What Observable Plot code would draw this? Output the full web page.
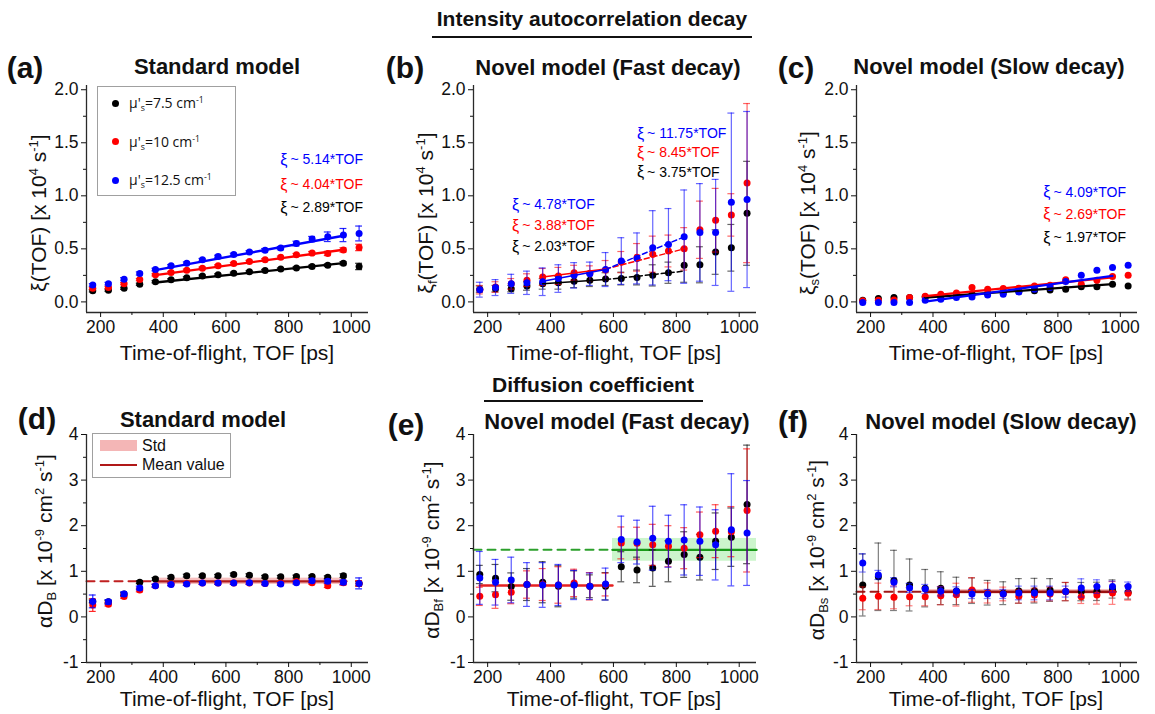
<!DOCTYPE html>
<html>
<head>
<meta charset="utf-8">
<script src="https://cdn.jsdelivr.net/npm/d3@7"></script>
<script src="https://cdn.jsdelivr.net/npm/@observablehq/plot@0.6"></script>
<style>
  body { margin: 0; background: #fff; }
  #root { position: relative; width: 1155px; height: 714px; overflow: hidden; background: #fff;
          font-family: "Liberation Sans", Arial, sans-serif; color: #111; }
  .t { position: absolute; transform: translate(-50%, -50%); white-space: nowrap; line-height: 1; }
  .b { font-weight: bold; }
  .rot { transform: translate(-50%, -50%) rotate(-90deg); }
  sup { font-size: 0.62em; vertical-align: 0.6em; line-height: 0; }
  sub { font-size: 0.62em; vertical-align: -0.35em; line-height: 0; }
  .box { position: absolute; border: 1px solid #a0a0a0; background: #fff; }
</style>
</head>
<body>
<div id="root"></div>
<script>
// ---------------- data ----------------
const tof = [175,225,275,325,375,425,475,525,575,625,675,725,775,825,875,925,975,1025];
const xTicks = [200,400,600,800,1000];
const xMinor = [300,500,700,900];
const topTicks = [0,0.5,1,1.5,2];
const topMinor = [0.25,0.75,1.25,1.75];
const botTicks = [-1,0,1,2,3,4];
const botMinor = [-0.5,0.5,1.5,2.5,3.5];
const legendLabels = ["7.5","10","12.5"];

// (a) standard model, xi(TOF)
const aBlack = [0.104,0.11,0.128,0.166,0.19,0.208,0.227,0.243,0.255,0.27,0.283,0.296,0.309,0.32,0.334,0.346,0.365,0.334];
const aRed   = [0.128,0.135,0.172,0.21,0.255,0.277,0.299,0.318,0.34,0.362,0.381,0.397,0.42,0.444,0.46,0.457,0.49,0.513];
const aBlue  = [0.16,0.172,0.214,0.268,0.305,0.34,0.365,0.397,0.428,0.447,0.47,0.488,0.507,0.55,0.592,0.614,0.63,0.645];
const aBlackErr = [0.01,0.01,0.01,0.01,0.01,0.01,0.01,0.01,0.01,0.01,0.01,0.01,0.01,0.01,0.012,0.012,0.015,0.03];
const aRedErr   = [0.01,0.01,0.01,0.01,0.01,0.01,0.01,0.01,0.01,0.01,0.01,0.01,0.012,0.012,0.015,0.02,0.02,0.03];
const aBlueErr  = [0.012,0.012,0.015,0.015,0.012,0.012,0.012,0.012,0.012,0.012,0.012,0.015,0.015,0.022,0.025,0.045,0.062,0.07];
const aFitX = [375, 975];
const aFitBlack = [0.183, 0.365];
const aFitRed = [0.252, 0.491];
const aFitBlue = [0.30, 0.624];
const aNotes = ["~ 5.14*TOF","~ 4.04*TOF","~ 2.89*TOF"];

// (b) novel model fast decay, xi_f(TOF)
const bBlack = [0.12,0.125,0.125,0.15,0.17,0.18,0.195,0.205,0.215,0.22,0.23,0.25,0.275,0.345,0.35,0.47,0.51,0.835];
const bRed   = [0.115,0.14,0.17,0.205,0.235,0.245,0.275,0.27,0.30,0.375,0.42,0.45,0.48,0.50,0.68,0.77,0.82,1.12];
const bBlue  = [0.115,0.135,0.17,0.18,0.19,0.22,0.25,0.265,0.305,0.385,0.41,0.51,0.54,0.615,0.655,0.655,0.94,0.965];
const bBlackErr = [0.03,0.03,0.03,0.04,0.05,0.06,0.06,0.06,0.06,0.06,0.07,0.1,0.1,0.16,0.17,0.21,0.22,0.49];
const bRedErr   = [0.04,0.05,0.05,0.06,0.08,0.08,0.07,0.07,0.09,0.1,0.13,0.17,0.15,0.2,0.27,0.3,0.2,0.75];
const bBlueErr  = [0.07,0.075,0.09,0.11,0.13,0.13,0.12,0.11,0.16,0.22,0.24,0.35,0.34,0.44,0.46,0.5,0.84,0.83];
const bSolidX = [375, 575];
const bDashX = [575, 825];
const bSolidBlack = [0.17, 0.21],  bDashBlack = [0.21, 0.29];
const bSolidRed   = [0.235, 0.31], bDashRed   = [0.31, 0.50];
const bSolidBlue  = [0.195, 0.305], bDashBlue = [0.305, 0.613];
const bNotesLow  = ["~ 4.78*TOF","~ 3.88*TOF","~ 2.03*TOF"];
const bNotesHigh = ["~ 11.75*TOF","~ 8.45*TOF","~ 3.75*TOF"];

// (c) novel model slow decay, xi_s(TOF)
const cBlack = [0.016,0.031,0.041,0.041,0.047,0.05,0.063,0.072,0.079,0.088,0.098,0.104,0.113,0.12,0.142,0.142,0.167,0.151];
const cRed   = [0.01,0.016,0.019,0.041,0.054,0.072,0.085,0.135,0.12,0.126,0.129,0.151,0.157,0.208,0.167,0.205,0.24,0.252];
const cBlue  = [-0.006,-0.006,-0.006,-0.006,0.016,0.025,0.041,0.047,0.066,0.072,0.094,0.12,0.135,0.192,0.252,0.299,0.324,0.346];
const cFitX = [375, 975];
const cFitBlack = [0.041, 0.167];
const cFitRed = [0.054, 0.23];
const cFitBlue = [0.003, 0.246];
const cNotes = ["~ 4.09*TOF","~ 2.69*TOF","~ 1.97*TOF"];

// (d) standard model, alpha D_B
const dBlack = [0.34,0.33,0.50,0.76,0.83,0.87,0.905,0.9,0.9,0.93,0.915,0.88,0.88,0.885,0.885,0.87,0.905,0.73];
const dRed   = [0.26,0.28,0.45,0.59,0.685,0.72,0.73,0.745,0.745,0.745,0.745,0.735,0.745,0.775,0.75,0.685,0.75,0.735];
const dBlue  = [0.34,0.33,0.50,0.635,0.685,0.71,0.72,0.745,0.745,0.745,0.75,0.735,0.72,0.75,0.795,0.78,0.76,0.735];
const dBlackErr = [0.03,0.03,0.03,0.03,0.03,0.03,0.03,0.03,0.03,0.03,0.03,0.03,0.03,0.03,0.03,0.03,0.04,0.05];
const dRedErr   = [0.14,0.04,0.04,0.04,0.03,0.03,0.03,0.03,0.03,0.03,0.03,0.03,0.03,0.03,0.03,0.04,0.05,0.06];
const dBlueErr  = [0.14,0.05,0.05,0.04,0.03,0.03,0.03,0.03,0.03,0.03,0.03,0.03,0.03,0.03,0.04,0.04,0.05,0.12];
const dMean = 0.78, dStd = 0.07;
const dMeanX = [375, 985];

// (e) novel model fast decay, alpha D_Bf
const eBlack = [0.93,0.85,0.665,0.71,0.76,0.672,0.71,0.672,0.672,1.1,1.03,1.07,1.22,1.367,1.31,1.66,1.749,2.467];
const eRed   = [0.451,0.488,0.539,0.71,0.71,0.70,0.745,0.672,0.71,1.623,1.616,1.58,1.55,1.507,1.8,1.88,1.87,2.335];
const eBlue  = [0.855,0.76,0.81,0.71,0.70,0.70,0.70,0.672,0.72,1.70,1.64,1.726,1.66,1.689,1.66,1.58,1.91,1.84];
const eBlackErr = [0.2,0.3,0.3,0.35,0.45,0.45,0.3,0.25,0.3,0.33,0.28,0.4,0.45,0.5,0.5,0.62,0.64,1.3];
const eRedErr   = [0.2,0.3,0.25,0.3,0.35,0.4,0.3,0.3,0.25,0.35,0.35,0.45,0.45,0.45,0.5,0.58,0.55,1.35];
const eBlueErr  = [0.58,0.5,0.5,0.48,0.49,0.45,0.32,0.29,0.35,0.51,0.48,0.7,0.57,0.77,0.75,0.77,1.23,1.15];
const eLowMean = 0.69, eLowX = [175, 597];
const eHighMean = 1.47, eHighStd = 0.25, eHighX = [597, 1055];

// (f) novel model slow decay, alpha D_Bs
const fBlack = [0.70,0.88,0.80,0.70,0.63,0.63,0.57,0.575,0.53,0.52,0.57,0.575,0.59,0.555,0.555,0.56,0.612,0.54];
const fRed   = [0.407,0.451,0.429,0.444,0.444,0.466,0.488,0.59,0.525,0.503,0.451,0.48,0.503,0.555,0.444,0.48,0.525,0.518];
const fBlue  = [1.184,0.92,0.759,0.635,0.612,0.56,0.56,0.503,0.503,0.503,0.525,0.525,0.525,0.555,0.635,0.664,0.664,0.664];
const fBlackErr = [0.68,0.74,0.66,0.57,0.41,0.36,0.3,0.28,0.27,0.25,0.27,0.27,0.25,0.2,0.2,0.2,0.2,0.15];
const fRedErr   = [0.25,0.29,0.25,0.2,0.2,0.2,0.25,0.27,0.22,0.15,0.15,0.15,0.15,0.2,0.15,0.2,0.25,0.15];
const fBlueErr  = [0.2,0.1,0.1,0.1,0.1,0.1,0.1,0.1,0.1,0.1,0.15,0.15,0.15,0.12,0.2,0.15,0.12,0.1];
const fMean = 0.55, fStd = 0.05;
const fMeanX = [375, 985];

// ---------------- drawing ----------------
const BLACK = "#000000", RED = "#ff0000", BLUE = "#0000ff";
const XD = [155, 1055];
const AX = "#2a2a2a";
const FONT = '"Liberation Sans", Arial, sans-serif';
const root = document.getElementById("root");

function seriesMarks(vals, errs, color, eo) {
  const data = tof.map((t, k) => ({x: t, y: vals[k], e: errs ? errs[k] : 0}));
  const m = [];
  if (errs) {
    const st = {stroke: color, strokeOpacity: eo, strokeWidth: 1.2};
    m.push(Plot.ruleX(data, {x: "x", y1: d => d.y - d.e, y2: d => d.y + d.e, ...st}));
    m.push(Plot.ruleY(data, {y: d => d.y + d.e, x1: d => d.x - 11, x2: d => d.x + 11, ...st}));
    m.push(Plot.ruleY(data, {y: d => d.y - d.e, x1: d => d.x - 11, x2: d => d.x + 11, ...st}));
  }
  m.push(Plot.dot(data, {x: "x", y: "y", r: 3.5, fill: color, stroke: "none"}));
  return m;
}
function seg(xs, ys, opts) {
  return Plot.line(xs.map((x, i) => ({x, y: ys[i]})), {x: "x", y: "y", ...opts});
}
function hline(xs, y, opts) { return seg(xs, [y, y], opts); }
function band(xs, mean, sd, fill, op) {
  return Plot.rect([{x1: xs[0], x2: xs[1], y1: mean - sd, y2: mean + sd}],
    {x1: "x1", x2: "x2", y1: "y1", y2: "y2", fill, fillOpacity: op});
}
function notes(texts, x, ys) {
  const cols = [BLUE, RED, BLACK];
  const d = texts.map((t, i) => ({t, y: ys[i], c: cols[i]}));
  return [
    Plot.text(d, {x: () => x, y: "y", text: () => "ξ", fill: "c", textAnchor: "end", dx: -3, fontSize: 16}),
    Plot.text(d, {x: () => x, y: "y", text: "t", fill: "c", textAnchor: "start", fontSize: 14})
  ];
}

function panel(p) {
  const marks = [...(p.under || [])];
  p.series.forEach(s => marks.push(...seriesMarks(s[0], s[1], s[2], p.eo)));
  marks.push(...(p.over || []));
  marks.push(
    Plot.ruleX([XD[0]], {stroke: AX, strokeWidth: 1.3}),
    Plot.ruleY([p.yD[0]], {stroke: AX, strokeWidth: 1.3}),
    Plot.axisX({ticks: xTicks, tickSize: 5, tickPadding: 3, label: null, fontSize: 17.5, tickFormat: d => String(d)}),
    Plot.axisX({ticks: xMinor, tickSize: 3, label: null, tickFormat: () => ""}),
    Plot.axisY({ticks: p.yTicks, tickSize: 5, tickPadding: 3, label: null, fontSize: 17.5, tickFormat: p.yFmt}),
    Plot.axisY({ticks: p.yMinor, tickSize: 3, label: null, tickFormat: () => ""})
  );
  const svg = Plot.plot({
    width: p.w, height: p.h,
    marginLeft: p.ml, marginRight: p.mr, marginTop: p.mt, marginBottom: p.mb,
    x: {domain: XD}, y: {domain: p.yD},
    style: {fontFamily: FONT, fontSize: "17px", background: "transparent", overflow: "visible", color: "#111"},
    marks
  });
  const wrap = document.createElement("div");
  wrap.style.cssText = `position:absolute;left:${p.l}px;top:${p.t}px;width:${p.w}px;height:${p.h}px;`;
  wrap.appendChild(svg);
  root.appendChild(wrap);
}

const topFmt = d => d.toFixed(1);
const botFmt = d => String(d);
const TOP = {t: 80, h: 300, mt: 5, mb: 68, yD: [-0.1, 2.04], yTicks: topTicks, yMinor: topMinor, yFmt: topFmt};
const BOT = {t: 428, h: 286, mt: 6, mb: 52, yD: [-1, 4], yTicks: botTicks, yMinor: botMinor, yFmt: botFmt};
const COLA = {l: 0, w: 380, ml: 86, mr: 12};
const COLB = {l: 380, w: 385, ml: 93, mr: 9};
const COLC = {l: 765, w: 390, ml: 91, mr: 18};

panel({...TOP, ...COLA, eo: 0.85,
  series: [[aBlack, aBlackErr, BLACK], [aRed, aRedErr, RED], [aBlue, aBlueErr, BLUE]],
  over: [
    seg(aFitX, aFitBlack, {stroke: BLACK, strokeWidth: 2.4}),
    seg(aFitX, aFitRed, {stroke: RED, strokeWidth: 2.4}),
    seg(aFitX, aFitBlue, {stroke: BLUE, strokeWidth: 2.4}),
    ...notes(aNotes, 806, [1.339, 1.102, 0.891])
  ]});

panel({...TOP, ...COLB, eo: 0.6,
  series: [[bBlack, bBlackErr, BLACK], [bRed, bRedErr, RED], [bBlue, bBlueErr, BLUE]],
  over: [
    seg(bSolidX, bSolidBlack, {stroke: BLACK, strokeWidth: 1.5}),
    seg(bSolidX, bSolidRed, {stroke: RED, strokeWidth: 1.5}),
    seg(bSolidX, bSolidBlue, {stroke: BLUE, strokeWidth: 1.5}),
    seg(bDashX, bDashBlack, {stroke: BLACK, strokeWidth: 1.5, strokeDasharray: "5,3"}),
    seg(bDashX, bDashRed, {stroke: RED, strokeWidth: 1.5, strokeDasharray: "5,3"}),
    seg(bDashX, bDashBlue, {stroke: BLUE, strokeWidth: 1.5, strokeDasharray: "5,3"}),
    ...notes(bNotesLow, 310, [0.916, 0.718, 0.52]),
    ...notes(bNotesHigh, 707, [1.584, 1.405, 1.222])
  ]});

panel({...TOP, ...COLC, eo: 0.6,
  series: [[cBlack, null, BLACK], [cRed, null, RED], [cBlue, null, BLUE]],
  over: [
    seg(cFitX, cFitBlack, {stroke: BLACK, strokeWidth: 2.2}),
    seg(cFitX, cFitRed, {stroke: RED, strokeWidth: 2.2}),
    seg(cFitX, cFitBlue, {stroke: BLUE, strokeWidth: 2.2}),
    ...notes(cNotes, 786, [1.033, 0.828, 0.607])
  ]});

panel({...BOT, ...COLA, eo: 0.85,
  under: [
    band(dMeanX, dMean, dStd, "#f08080", 0.5),
    hline(dMeanX, dMean, {stroke: "#b01818", strokeWidth: 2.2}),
    hline([XD[0], dMeanX[0]], dMean, {stroke: "#c02020", strokeWidth: 2, strokeDasharray: "8,6"})
  ],
  series: [[dBlack, dBlackErr, BLACK], [dRed, dRedErr, RED], [dBlue, dBlueErr, BLUE]]});

panel({...BOT, ...COLB, eo: 0.65,
  under: [
    band(eHighX, eHighMean, eHighStd, "#8ee88e", 0.45),
    hline(eHighX, eHighMean, {stroke: "#1a9a1a", strokeWidth: 2.4}),
    hline([XD[0], eHighX[0]], eHighMean, {stroke: "#2ca02c", strokeWidth: 2, strokeDasharray: "8,6"}),
    hline(eLowX, eLowMean, {stroke: "#e52020", strokeWidth: 2.4})
  ],
  series: [[eBlack, eBlackErr, BLACK], [eRed, eRedErr, RED], [eBlue, eBlueErr, BLUE]]});

panel({...BOT, ...COLC, eo: 0.5,
  under: [
    band(fMeanX, fMean, fStd, "#f08080", 0.5),
    hline(fMeanX, fMean, {stroke: "#9a1010", strokeWidth: 2.4}),
    hline([XD[0], fMeanX[0]], fMean, {stroke: "#a01818", strokeWidth: 2, strokeDasharray: "8,6"})
  ],
  series: [[fBlack, fBlackErr, BLACK], [fRed, fRedErr, RED], [fBlue, fBlueErr, BLUE]]});

// ---------------- text ----------------
function txt(html, x, y, css, cls) {
  const d = document.createElement("div");
  d.className = "t " + (cls || "");
  d.style.left = x + "px"; d.style.top = y + "px";
  if (css) d.style.cssText += css;
  d.innerHTML = html;
  root.appendChild(d);
  return d;
}
function rule(x, y, w, h, c) {
  const d = document.createElement("div");
  d.style.cssText = `position:absolute;left:${x}px;top:${y}px;width:${w}px;height:${h}px;background:${c};`;
  root.appendChild(d);
}

// section titles
txt("Intensity autocorrelation decay", 592, 18, "font-size:21px;", "b");
rule(432, 36, 320, 2, "#111");
txt("Diffusion coefficient", 593, 384, "font-size:21px;", "b");
rule(484, 400, 219, 2, "#111");

// panel letters and titles
const big = "font-size:30px;";
const ttl = "font-size:22px;";
txt("(a)", 25, 68, big, "b");   txt("Standard model", 217, 67, ttl, "b");
txt("(b)", 405, 68, big, "b");  txt("Novel model (Fast decay)", 608, 68, ttl, "b");
txt("(c)", 796, 68, big, "b");  txt("Novel model (Slow decay)", 989, 67, ttl, "b");
txt("(d)", 37, 419, big, "b");  txt("Standard model", 203, 420, ttl, "b");
txt("(e)", 406, 425, big, "b"); txt("Novel model (Fast decay)", 617, 422, ttl, "b");
txt("(f)", 793, 422, big, "b"); txt("Novel model (Slow decay)", 1001, 422, ttl, "b");

// axis titles
const xt = "font-size:21px;";
const xTitle = "Time-of-flight, TOF [ps]";
[227, 614, 996].forEach(x => { txt(xTitle, x, 352, xt); txt(xTitle, x, 698, xt); });
const yt = "font-size:21px;";
txt("ξ(TOF) [x 10<sup>4</sup> s<sup>-1</sup>]", 38, 213, yt, "rot");
txt("ξ<sub>f</sub>(TOF) [x 10<sup>4</sup> s<sup>-1</sup>]", 425, 213, yt, "rot");
txt("ξ<sub>s</sub>(TOF) [x 10<sup>4</sup> s<sup>-1</sup>]", 807, 213, yt, "rot");
txt("αD<sub>B</sub> [x 10<sup>-9</sup> cm<sup>2</sup> s<sup>-1</sup>]", 44, 541, yt, "rot");
txt("αD<sub>Bf</sub> [x 10<sup>-9</sup> cm<sup>2</sup> s<sup>-1</sup>]", 431, 550, yt, "rot");
txt("αD<sub>Bs</sub> [x 10<sup>-9</sup> cm<sup>2</sup> s<sup>-1</sup>]", 816, 550, yt, "rot");

// legend (a)
const lgA = document.createElement("div");
lgA.className = "box";
lgA.style.cssText += "left:97px;top:86px;width:137px;height:108px;";
root.appendChild(lgA);
const legColors = [BLACK, RED, BLUE];
const legY = [103, 141.5, 180];
legendLabels.forEach((lab, i) => {
  const dot = document.createElement("div");
  dot.style.cssText = `position:absolute;left:${115 - 3.5}px;top:${legY[i] - 3.5}px;width:7px;height:7px;border-radius:50%;background:${legColors[i]};`;
  root.appendChild(dot);
  const d = document.createElement("div");
  d.style.cssText = `position:absolute;left:129px;top:${legY[i] - 9}px;font-family:'Open Sans',sans-serif;font-size:14px;line-height:18px;white-space:nowrap;color:#111;`;
  d.innerHTML = `μ'<sub>s</sub>=${lab} cm<sup>-1</sup>`;
  root.appendChild(d);
});

// legend (d)
const lgD = document.createElement("div");
lgD.className = "box";
lgD.style.cssText += "left:92px;top:433px;width:137px;height:43px;";
root.appendChild(lgD);
rule(100, 440, 37, 11, "#f4b6b6");
rule(100, 463.5, 37, 2.5, "#b01818");
const sd = document.createElement("div");
sd.style.cssText = "position:absolute;left:142px;top:437px;font-size:16px;line-height:17px;";
sd.textContent = "Std"; root.appendChild(sd);
const mv = document.createElement("div");
mv.style.cssText = "position:absolute;left:142px;top:456px;font-size:16px;line-height:17px;";
mv.textContent = "Mean value"; root.appendChild(mv);
</script>
</body>
</html>
